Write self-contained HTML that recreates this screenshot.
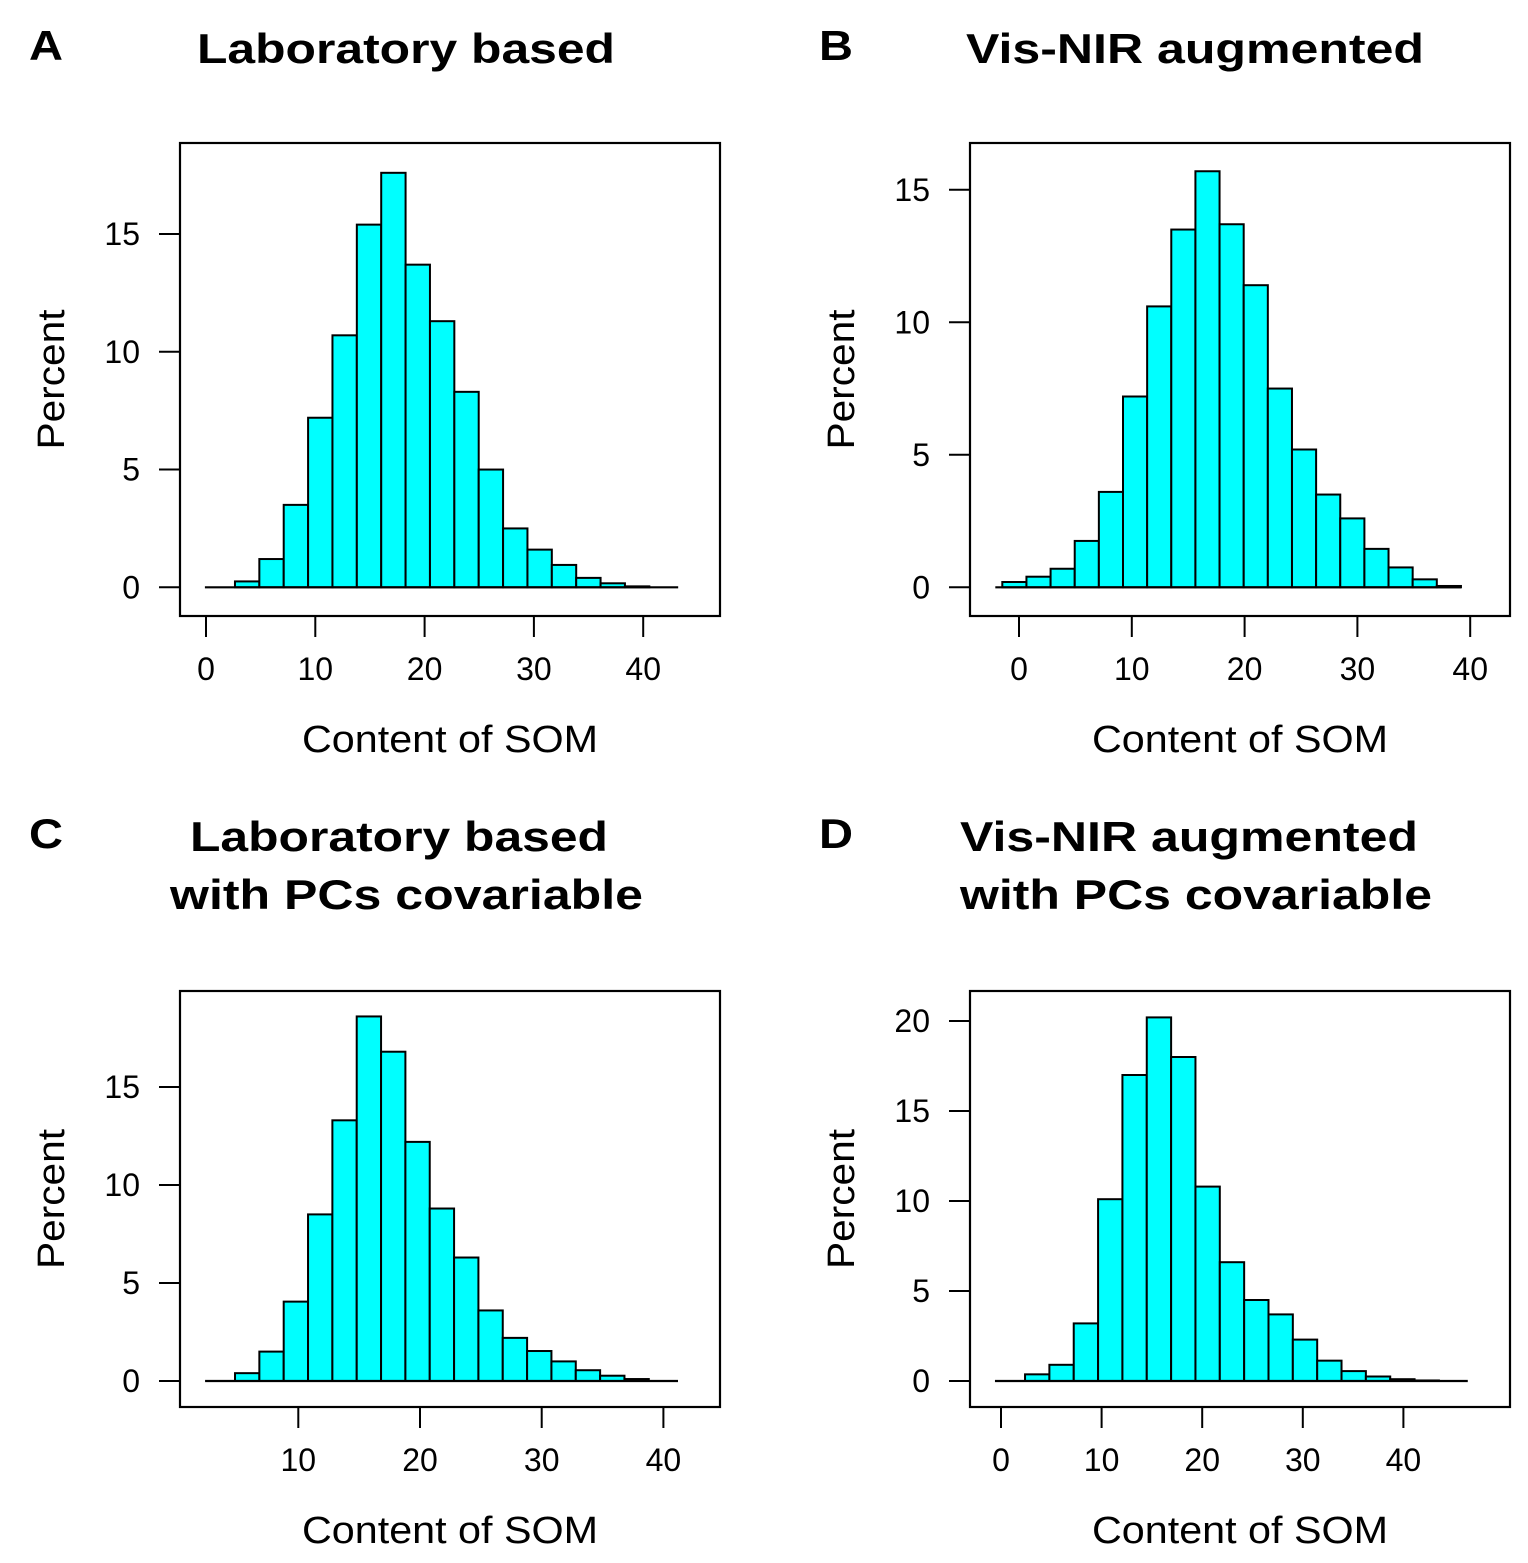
<!DOCTYPE html>
<html><head><meta charset="utf-8">
<style>
html,body{margin:0;padding:0;background:#fff;}
svg{display:block;font-family:"Liberation Sans",Arial,sans-serif;}
</style></head>
<body>
<svg id="fig" width="1528" height="1563" viewBox="0 0 1528 1563" xmlns="http://www.w3.org/2000/svg">
<rect width="1528" height="1563" fill="#fff"/>
<g font-weight="bold" fill="#000">
<text x="29" y="60" font-size="42" textLength="34" lengthAdjust="spacingAndGlyphs">A</text>
<text x="819" y="60" font-size="42" textLength="34" lengthAdjust="spacingAndGlyphs">B</text>
<text x="29" y="848" font-size="42" textLength="34" lengthAdjust="spacingAndGlyphs">C</text>
<text x="819" y="848" font-size="42" textLength="34" lengthAdjust="spacingAndGlyphs">D</text>
<text x="197" y="63" font-size="42" textLength="418" lengthAdjust="spacingAndGlyphs">Laboratory based</text>
<text x="966" y="63" font-size="42" textLength="458" lengthAdjust="spacingAndGlyphs">Vis-NIR augmented</text>
<text x="190" y="851" font-size="42" textLength="418" lengthAdjust="spacingAndGlyphs">Laboratory based</text>
<text x="170" y="909" font-size="42" textLength="473" lengthAdjust="spacingAndGlyphs">with PCs covariable</text>
<text x="960" y="851" font-size="42" textLength="458" lengthAdjust="spacingAndGlyphs">Vis-NIR augmented</text>
<text x="960" y="909" font-size="42" textLength="472" lengthAdjust="spacingAndGlyphs">with PCs covariable</text>
</g>
</svg>
<script>
// Panel A: Laboratory based
const aBinStart = 2.65, aBinWidth = 2.23;
const aValues = [0.25,1.2,3.5,7.2,10.7,15.4,17.6,13.7,11.3,8.3,5.0,2.5,1.6,0.95,0.4,0.17,0.04];
const aXTicks = [0,10,20,30,40];
const aYTicks = [0,5,10,15];
const aRange = [-0.1, 43.2];
// Panel B: Vis-NIR augmented
const bBinStart = -1.48, bBinWidth = 2.14;
const bValues = [0.2,0.4,0.7,1.75,3.6,7.2,10.6,13.5,15.7,13.7,11.4,7.5,5.2,3.5,2.6,1.45,0.75,0.3,0.05];
const bXTicks = [0,10,20,30,40];
const bYTicks = [0,5,10,15];
const bRange = [-2.1, 39.2];
// Panel C: Laboratory based with PCs
const cBinStart = 4.8, cBinWidth = 2.0;
const cValues = [0.4,1.5,4.05,8.5,13.3,18.6,16.8,12.2,8.8,6.3,3.6,2.2,1.53,1.0,0.55,0.27,0.1];
const cXTicks = [10,20,30,40];
const cYTicks = [0,5,10,15];
const cRange = [2.34, 41.2];
// Panel D: Vis-NIR augmented with PCs
const dBinStart = 2.39, dBinWidth = 2.42;
const dValues = [0.37,0.9,3.2,10.1,17.0,20.2,18.0,10.8,6.6,4.5,3.7,2.3,1.13,0.55,0.25,0.1,0.03];
const dXTicks = [0,10,20,30,40];
const dYTicks = [0,5,10,15,20];
const dRange = [-0.6, 46.4];

const NS = "http://www.w3.org/2000/svg";
const svg = document.getElementById('fig');
function mk(tag, attrs, parent){
  const e = document.createElementNS(NS, tag);
  for (const k in attrs) e.setAttribute(k, attrs[k]);
  (parent||svg).appendChild(e);
  return e;
}
function panel(id, box, x0px, pxPerX, y0px, pxPerY, binStart, binWidth, values, xTicks, yTicks, range){
  const g = mk('g', {});
  
  
  const sx = v => x0px + v * pxPerX;
  const sy = v => y0px - v * pxPerY;
  values.forEach((v, i) => {
    const l = sx(binStart + i * binWidth), r = sx(binStart + (i + 1) * binWidth);
    const r0 = mk('rect', {x: l, y: sy(v), width: r - l, height: sy(0) - sy(v), fill: '#00ffff', stroke: '#000', 'stroke-width': 2}, g);
    
    
  });
  const bl = mk('line', {x1: sx(range[0]), x2: sx(range[1]), y1: sy(0), y2: sy(0), stroke: '#000', 'stroke-width': 2.2}, g);
  
  
  const bx = mk('rect', {x: box[0], y: box[1], width: box[2] - box[0], height: box[3] - box[1], fill: 'none', stroke: '#000', 'stroke-width': 2.2}, g);
  
  
  xTicks.forEach(t => {
    const x = sx(t);
    const tl = mk('line', {x1: x, x2: x, y1: box[3], y2: box[3] + 21, stroke: '#000', 'stroke-width': 2}, g);
    
    
    const tx = mk('text', {x: x, y: box[3] + 64, 'font-size': 32, 'text-anchor': 'middle'}, g);
    tx.textContent = t;
    
    
  });
  yTicks.forEach(t => {
    const y = sy(t);
    const tl = mk('line', {x1: box[0] - 21, x2: box[0], y1: y, y2: y, stroke: '#000', 'stroke-width': 2}, g);
    
    
    const tx = mk('text', {x: box[0] - 40, y: y + 11, 'font-size': 32, 'text-anchor': 'end'}, g);
    tx.textContent = t;
    
    
  });
  const xt = mk('text', {x: (box[0] + box[2]) / 2, y: box[3] + 136, 'font-size': 38, 'text-anchor': 'middle', textLength: 296, lengthAdjust: 'spacingAndGlyphs'}, g);
  xt.textContent = 'Content of SOM';
  
  
  const cy = (box[1] + box[3]) / 2;
  const yt = mk('text', {x: 0, y: 0, 'font-size': 38, 'text-anchor': 'middle', textLength: 140, lengthAdjust: 'spacingAndGlyphs', transform: 'translate(' + (box[0] - 116) + ',' + cy + ') rotate(-90)'}, g);
  yt.textContent = 'Percent';
  
  
}
panel('a', [180,143,720,616], 206, 10.93, 587.3, 23.55, aBinStart, aBinWidth, aValues, aXTicks, aYTicks, aRange);
panel('b', [970,143,1510,616], 1019, 11.28, 587.3, 26.5, bBinStart, bBinWidth, bValues, bXTicks, bYTicks, bRange);
panel('c', [180,991,720,1407], 176.6, 12.17, 1381, 19.6, cBinStart, cBinWidth, cValues, cXTicks, cYTicks, cRange);
panel('d', [970,991,1510,1407], 1001, 10.06, 1381, 18.0, dBinStart, dBinWidth, dValues, dXTicks, dYTicks, dRange);
</script>
</body></html>
